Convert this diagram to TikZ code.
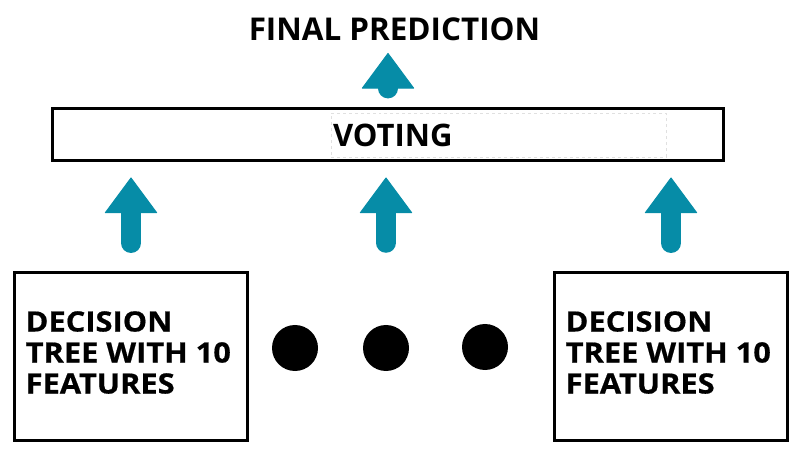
\documentclass[tikz,border=0pt]{standalone}
\usepackage{fontspec}
\setmainfont{Open Sans}
\newfontfamily\treefont{Open Sans}[FakeStretch=1.1, FakeBold=0.6]
\usetikzlibrary{arrows.meta,positioning}
\definecolor{tealarrow}{HTML}{068CA7}
\tikzset{
    treebox/.style={draw=black, line width=3bp, minimum width=233bp, minimum height=168bp, inner sep=0},
    treetext/.style={align=left, inner sep=0, font=\treefont\fontsize{28bp}{31bp}\selectfont\bfseries},
    uparrow/.style={draw=tealarrow, line width=20bp, line cap=round,
        -{Triangle[width=53bp, length=36bp, line width=1bp, round]}},
    bigdot/.style={circle, fill=black, minimum size=46bp, inner sep=0}
}

\begin{document}
\begin{tikzpicture}[x=1bp, y=-1bp]
    \useasboundingbox (0,0) rectangle (800,452);
    \node[anchor=base, font=\fontsize{31.4bp}{36bp}\selectfont\bfseries] (final) at (394.5,41) {FINAL PREDICTION};
    \node[draw=black, line width=3bp, minimum width=671bp, minimum height=52bp, inner sep=0] (vote) at (388,134.5) {};
    \node[draw=black!12, dashed, line width=0.6bp, minimum width=335bp, minimum height=44bp,
        text width=331bp, inner xsep=2bp, align=left, font=\fontsize{31bp}{34bp}\selectfont\bfseries] (votelabel) at (498.5,135) {VOTING};
    \node[treebox] (tl) at (131,356.5) {};
    \node[treebox] (tr) at (671,356.5) {};
    \node[treetext, anchor=west, right=12.5bp of tl.west, yshift=4bp] (tltext) {DECISION\\TREE WITH 10\\FEATURES};
    \node[treetext, anchor=west, right=12.5bp of tr.west, yshift=4bp] (trtext) {DECISION\\TREE WITH 10\\FEATURES};
    \node[bigdot] (d1) at (295,348) {};
    \node[bigdot] (d2) at (386,348) {};
    \node[bigdot] (d3) at (485,347) {};
    \draw
    ([yshift=28bp]tl.north) edge[uparrow] ([yshift=-15.5bp]vote.south -| tl.north)
    ([yshift=82bp]d2.north) edge[uparrow] ([yshift=-15.5bp]vote.south -| d2.north)
    ([yshift=28bp]tr.north) edge[uparrow] ([yshift=-15.5bp]vote.south -| tr.north)
    ([yshift=19.5bp]vote.north) edge[uparrow] ([yshift=-12bp]final.base -| vote.north);
\end{tikzpicture}
\end{document}
